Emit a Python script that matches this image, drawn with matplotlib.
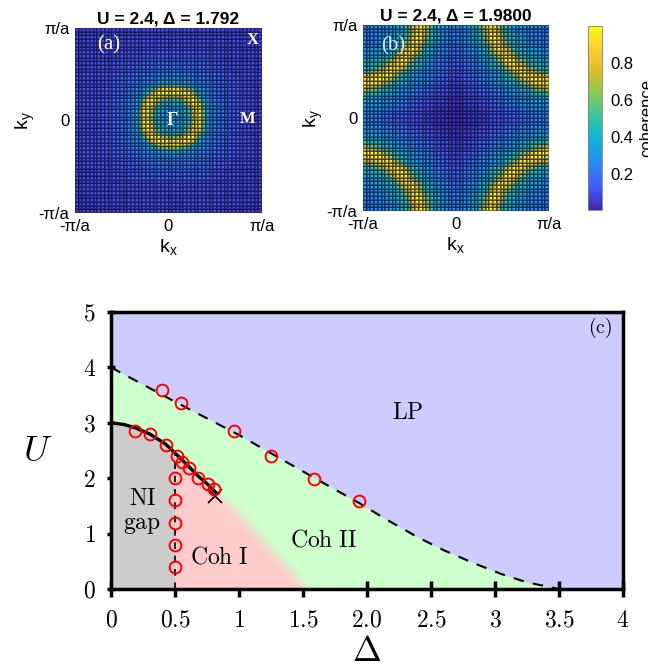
import numpy as np
import matplotlib
matplotlib.use('Agg')
import matplotlib.pyplot as plt
from matplotlib.colors import LinearSegmentedColormap, to_rgb
from matplotlib.patches import Polygon

plt.rcParams['font.family'] = ['Liberation Sans', 'DejaVu Sans']
plt.rcParams['mathtext.fontset'] = 'cm'

# ---- coherence maps (radial profiles, k in units of pi/a)
n_k = 50
a_center = [0.04, 0.035]
a_r = [0.00, 0.10, 0.17, 0.21, 0.24, 0.265, 0.29, 0.315, 0.34, 0.38, 0.45, 0.60, 0.80, 1.50]
a_c = [0.32, 0.36, 0.45, 0.60, 0.82, 0.98, 1.00, 0.88, 0.60, 0.38, 0.26, 0.17, 0.11, 0.07]
b_r = [0.00, 0.25, 0.42, 0.50, 0.56, 0.605, 0.635, 0.665, 0.70, 0.76, 0.88, 1.00, 1.15, 1.35, 1.55]
b_c = [0.20, 0.28, 0.42, 0.52, 0.78, 0.96, 1.00, 0.92, 0.68, 0.47, 0.32, 0.24, 0.13, 0.06, 0.02]

# ---- phase diagram
lp_d = [0.0, 0.5, 1.0, 1.25, 1.6, 1.94, 2.14, 2.4, 2.6, 2.83, 3.05, 3.25, 3.5]
lp_u = [4.0, 3.38, 2.78, 2.45, 1.99, 1.55, 1.27, 0.93, 0.70, 0.47, 0.27, 0.12, 0.0]
ni_d = [0.0, 0.1, 0.19, 0.31, 0.43, 0.52, 0.6, 0.68, 0.76, 0.82]
ni_u = [3.0, 2.97, 2.91, 2.79, 2.61, 2.41, 2.23, 2.04, 1.88, 1.74]
coh1_edge_d = [0.86, 1.52]
coh1_edge_u = [1.70, 0.0]
cross_d, cross_u = 0.81, 1.68

lp_pts_d = [0.395, 0.545, 0.958, 1.253, 1.589, 1.939]
lp_pts_u = [3.60, 3.36, 2.85, 2.40, 1.99, 1.59]
ni_pts_d = [0.189, 0.308, 0.426, 0.516, 0.558, 0.611, 0.676, 0.755, 0.803]
ni_pts_u = [2.86, 2.79, 2.60, 2.40, 2.29, 2.19, 2.00, 1.90, 1.80]
v_pts_d = [0.5, 0.5, 0.5, 0.5, 0.5]
v_pts_u = [2.0, 1.6, 1.2, 0.8, 0.4]

x_ticks = [0, 0.5, 1, 1.5, 2.0, 2.5, 3, 3.5, 4]
x_tick_labels = ['0', '0.5', '1', '1.5', '2.0', '2.5', '3', '3.5', '4']
y_ticks = [0, 1, 2, 3, 4, 5]

parula = LinearSegmentedColormap.from_list('parula', [
    (0.000, (0.2422, 0.1504, 0.6603)),
    (0.125, (0.2780, 0.3556, 0.9777)),
    (0.250, (0.1540, 0.5400, 0.9500)),
    (0.375, (0.0600, 0.6900, 0.8500)),
    (0.500, (0.2000, 0.7700, 0.6300)),
    (0.625, (0.5000, 0.8000, 0.3500)),
    (0.750, (0.8600, 0.7400, 0.1600)),
    (0.875, (0.9900, 0.8100, 0.1900)),
    (1.000, (0.9769, 0.9839, 0.0805))])

fig = plt.figure(figsize=(6.48, 6.68), dpi=100)
W, H = 648, 668


def px_axes(x0, y0, x1, y1):
    return fig.add_axes([x0 / W, 1 - y1 / H, (x1 - x0) / W, (y1 - y0) / H])


edges = np.linspace(-np.pi, np.pi, n_k + 1)
cent = 0.5 * (edges[1:] + edges[:-1]) / np.pi
KX, KY = np.meshgrid(cent, cent)

p = 2.3
ra = (np.abs(KX - a_center[0]) ** p + np.abs(KY - a_center[1]) ** p) ** (1 / p)
Za = np.interp(ra, a_r, a_c)
q = 1.6
rb = ((1 - np.abs(KX)) ** q + (1 - np.abs(KY)) ** q) ** (1 / q)
Zb = np.interp(rb, b_r, b_c)

ax_a = px_axes(75, 28, 262, 213)
ax_b = px_axes(363, 25, 549, 211)
for ax, Z, title in [(ax_a, Za, 'U = 2.4, Δ = 1.792'), (ax_b, Zb, 'U = 2.4, Δ = 1.9800')]:
    mesh = ax.pcolormesh(edges, edges, Z, cmap=parula, vmin=0.005, vmax=1.0,
                         edgecolors=(0.05, 0.05, 0.2, 0.45), linewidth=0.3)
    ax.set_xlim(-np.pi, np.pi)
    ax.set_ylim(-np.pi, np.pi)
    ax.set_xticks([-np.pi, 0, np.pi])
    ax.set_xticklabels(['-π/a', '0', 'π/a'])
    ax.set_yticks([-np.pi, 0, np.pi])
    ax.set_yticklabels(['-π/a', '0', 'π/a'])
    ax.tick_params(length=0, labelsize=12, pad=4)
    for s in ax.spines.values():
        s.set_visible(False)
    ax.set_title(title, fontsize=12.5, fontweight='bold', pad=3)
    ax.set_xlabel(r'k$_\mathregular{x}$', fontsize=14, labelpad=3)
    ax.set_ylabel(r'k$_\mathregular{y}$', fontsize=14, labelpad=1)

serif = ['Liberation Serif', 'DejaVu Serif']
ax_a.text(0.18, 0.91, '(a)', transform=ax_a.transAxes, color='white', fontsize=15,
          family=serif, ha='center', va='center')
ax_a.text(0.95, 0.935, 'X', transform=ax_a.transAxes, color='white', fontsize=12,
          family=serif, fontweight='bold', ha='center', va='center')
ax_a.text(0.52, 0.50, 'Γ', transform=ax_a.transAxes, color='white', fontsize=13,
          family=serif, fontweight='bold', ha='center', va='center')
ax_a.text(0.925, 0.51, 'M', transform=ax_a.transAxes, color='white', fontsize=12,
          family=serif, fontweight='bold', ha='center', va='center')
ax_b.text(0.16, 0.887, '(b)', transform=ax_b.transAxes, color=(0.85, 0.87, 1.0), fontsize=15,
          family=serif, ha='center', va='center')

cax = px_axes(588, 26, 602, 210)
cb = fig.colorbar(mesh, cax=cax)
cb.set_ticks([0.2, 0.4, 0.6, 0.8])
cb.ax.tick_params(length=0, labelsize=12, pad=6)
cb.outline.set_linewidth(0.6)
cb.outline.set_edgecolor('0.5')
cb.set_label('coherence', fontsize=12, labelpad=4)

# ---- panel (c)
ax = px_axes(111, 312, 623, 589)
ax.set_xlim(0, 4)
ax.set_ylim(0, 5)
blue, green, grey, pink = '#ccccff', '#ccffcc', '#cccccc', '#ffcccc'
ax.set_facecolor(blue)
ax.fill_between(lp_d, 0, lp_u, color=green, lw=0, zorder=1)

u_half = np.interp(0.5, ni_d, ni_u)
grey_poly = [(0, 0)] + [(d, u) for d, u in zip(ni_d, ni_u) if d < 0.5] + [(0.5, u_half), (0.5, 0)]
ax.add_patch(Polygon(grey_poly, closed=True, fc=grey, ec='none', zorder=2))

# pink Coh I region blending into green
fig.canvas.draw()
gx = np.linspace(0.5, 1.9, 400)
gy = np.linspace(0, 2.6, 400)
GX, GY = np.meshgrid(gx, gy)
pts = ax.transData.transform(np.column_stack([GX.ravel(), GY.ravel()]))
e = ax.transData.transform(np.column_stack([coh1_edge_d, coh1_edge_u]))
dvec = e[1] - e[0]
nvec = np.array([-dvec[1], dvec[0]]) / np.hypot(*dvec)
if nvec[0] < 0:
    nvec = -nvec
dist = ((pts - e[0]) @ nvec).reshape(GX.shape)
t = np.clip(dist / 14 + 0.5, 0, 1)[..., None]
img = (1 - t) * np.array(to_rgb(pink)) + t * np.array(to_rgb(green))
im = ax.imshow(img, extent=[gx[0], gx[-1], gy[0], gy[-1]], origin='lower',
               aspect='auto', interpolation='bilinear', zorder=2)
pink_poly = [(0.5, 0), (0.5, u_half)] + [(d, u) for d, u in zip(ni_d, ni_u) if d > 0.5] + \
            [(1.05, 1.45), (1.9, 0)]
clip = Polygon(pink_poly, closed=True, transform=ax.transData, fc='none', ec='none')
ax.add_patch(clip)
im.set_clip_path(clip)

ax.plot(lp_d, lp_u, color='black', lw=1.5, dashes=(5, 4.5), zorder=4)
ax.plot(ni_d, ni_u, color='black', lw=2.4, zorder=4)
ax.plot([0.5, 0.5], [0, u_half], color='black', lw=1.2, dashes=(4, 4), zorder=4)
ax.plot(cross_d, cross_u, marker='x', color='black', ms=10, mew=1.2, zorder=5)

for d, u in [(lp_pts_d, lp_pts_u), (ni_pts_d, ni_pts_u), (v_pts_d, v_pts_u)]:
    ax.plot(d, u, ls='none', marker='o', ms=8.5, mfc='none', mec='red', mew=1.4, zorder=6)

lab = dict(fontsize=17, ha='center', va='center', zorder=7)
ax.text(2.32, 3.17, r'$\mathrm{LP}$', **lab)
ax.text(1.66, 0.88, r'$\mathrm{Coh\ II}$', **lab)
ax.text(0.85, 0.56, r'$\mathrm{Coh\ I}$', **lab)
ax.text(0.25, 1.62, r'$\mathrm{NI}$', **lab)
ax.text(0.24, 1.15, r'$\mathrm{gap}$', **lab)
ax.text(3.82, 4.72, r'$\mathrm{(c)}$', fontsize=14, ha='center', va='center', zorder=7)

ax.set_xticks(x_ticks)
ax.set_xticklabels(['$' + s + '$' for s in x_tick_labels])
ax.set_yticks(y_ticks)
ax.set_yticklabels(['$%d$' % v for v in y_ticks])
ax.tick_params(axis='x', direction='inout', length=12, width=2.5, labelsize=17, pad=9)
ax.tick_params(axis='y', direction='inout', length=6, width=2.5, labelsize=17, pad=8)
for s in ax.spines.values():
    s.set_linewidth(2.5)
    s.set_zorder(8)

ax.set_xlabel(r'$\Delta$', fontsize=25)
ax.xaxis.set_label_coords(0.5, -0.165)
ax.set_ylabel(r'$U$', fontsize=26, rotation=0, va='center', ha='center')
ax.yaxis.set_label_coords(-0.1426, 0.495)

fig.savefig('out.png', dpi=100)
